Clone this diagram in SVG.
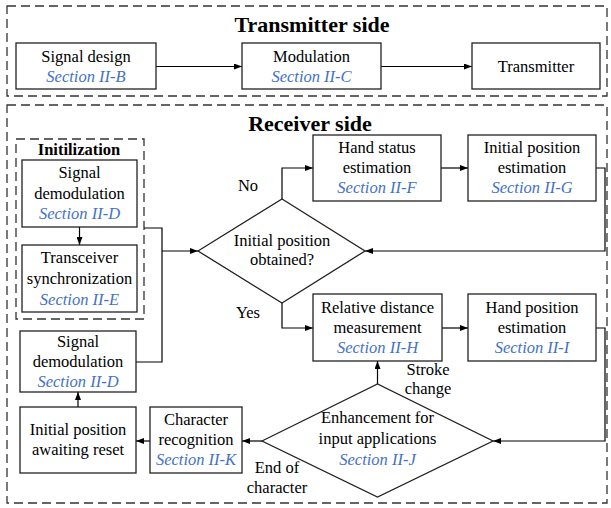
<svg xmlns="http://www.w3.org/2000/svg" width="611" height="508" viewBox="0 0 611 508" font-family="'Liberation Serif', 'Times New Roman', Times, serif">
<style>
text{font-family:'Liberation Serif','Times New Roman',Times,serif;font-size:16.5px;fill:#000;text-anchor:middle}
.t{font-weight:bold;font-size:22px}
.it{font-weight:bold;font-size:16.5px}
.s{font-style:italic;fill:#4472C4}
.box{fill:#fff;stroke:#222;stroke-width:1.3}
.dash{fill:none;stroke:#333;stroke-width:1.3;stroke-dasharray:9 5}
.c{fill:none;stroke:#000;stroke-width:1.2}
</style>
<defs>
<marker id="ah" markerWidth="8" markerHeight="6" refX="8" refY="3" orient="auto" markerUnits="userSpaceOnUse">
<path d="M0,0 L8,3 L0,6 Z" fill="#000"/>
</marker>
</defs>
<g id="transmitter-side">
<rect class="dash" x="7" y="6" width="600" height="90"/>
<text class="t" x="312" y="32">Transmitter side</text>
</g>
<g id="receiver-side">
<rect class="dash" x="7" y="105" width="600" height="398"/>
<text class="t" x="310" y="131">Receiver side</text>
</g>
<g id="initialization">
<rect class="dash" x="16" y="139" width="128" height="180"/>
<text class="it" x="79" y="155">Initilization</text>
</g>
<g id="connectors">
<path class="c" d="M156,66.5 H242" marker-end="url(#ah)"/>
<path class="c" d="M381,66.5 H472" marker-end="url(#ah)"/>
<path class="c" d="M79.5,227 V245" marker-end="url(#ah)"/>
<path class="c" d="M144,228 H162 V362 H136"/>
<path class="c" d="M162,251 H198" marker-end="url(#ah)"/>
<path class="c" d="M282,199 V168 H313" marker-end="url(#ah)"/>
<path class="c" d="M441,168 H468" marker-end="url(#ah)"/>
<path class="c" d="M596,168 H605 V251 H365" marker-end="url(#ah)"/>
<path class="c" d="M282,303 V328 H313" marker-end="url(#ah)"/>
<path class="c" d="M442,328 H468" marker-end="url(#ah)"/>
<path class="c" d="M596,328 H605 V441 H493" marker-end="url(#ah)"/>
<path class="c" d="M377.5,384 V361" marker-end="url(#ah)"/>
<path class="c" d="M262,441 H242" marker-end="url(#ah)"/>
<path class="c" d="M150,441 H136" marker-end="url(#ah)"/>
<path class="c" d="M78,407 V392" marker-end="url(#ah)"/>
</g>
<g id="signal-design">
<rect class="box" x="16" y="43" width="140" height="46"/>
<text x="86" y="62">Signal design</text>
<text class="s" x="86" y="82">Section II-B</text>
</g>
<g id="modulation">
<rect class="box" x="242" y="43" width="139" height="46"/>
<text x="311.5" y="62">Modulation</text>
<text class="s" x="311.5" y="82">Section II-C</text>
</g>
<g id="transmitter">
<rect class="box" x="472" y="43" width="128" height="46"/>
<text x="536" y="72">Transmitter</text>
</g>
<g id="signal-demodulation-1">
<rect class="box" x="22" y="160" width="115" height="67"/>
<text x="79.5" y="178">Signal</text>
<text x="79.5" y="199">demodulation</text>
<text class="s" x="79.5" y="219">Section II-D</text>
</g>
<g id="transceiver-sync">
<rect class="box" x="22" y="245" width="115" height="67"/>
<text x="79.5" y="263">Transceiver</text>
<text x="79.5" y="284">synchronization</text>
<text class="s" x="79.5" y="305">Section II-E</text>
</g>
<g id="initial-position-obtained">
<path class="box" d="M198,251 L282,199 L365,251 L282,303 Z"/>
<text x="282" y="246">Initial position</text>
<text x="282" y="265">obtained?</text>
</g>
<g id="hand-status">
<rect class="box" x="313" y="135" width="128" height="66"/>
<text x="377" y="153">Hand status</text>
<text x="377" y="173">estimation</text>
<text class="s" x="377" y="193">Section II-F</text>
</g>
<g id="initial-position-estimation">
<rect class="box" x="468" y="135" width="128" height="66"/>
<text x="532" y="153">Initial position</text>
<text x="532" y="173">estimation</text>
<text class="s" x="532" y="193">Section II-G</text>
</g>
<g id="relative-distance">
<rect class="box" x="313" y="294" width="129" height="67"/>
<text x="377.5" y="313">Relative distance</text>
<text x="377.5" y="333">measurement</text>
<text class="s" x="377.5" y="353">Section II-H</text>
</g>
<g id="hand-position">
<rect class="box" x="468" y="294" width="128" height="67"/>
<text x="532" y="313">Hand position</text>
<text x="532" y="333">estimation</text>
<text class="s" x="532" y="353">Section II-I</text>
</g>
<g id="enhancement">
<path class="box" d="M262,441 L377.5,384 L493,441 L377.5,497 Z"/>
<text x="377.5" y="423">Enhancement for</text>
<text x="377.5" y="444">input applications</text>
<text class="s" x="377.5" y="465">Section II-J</text>
</g>
<g id="character-recognition">
<rect class="box" x="150" y="407" width="92" height="66"/>
<text x="196" y="425">Character</text>
<text x="196" y="445">recognition</text>
<text class="s" x="196" y="465">Section II-K</text>
</g>
<g id="awaiting-reset">
<rect class="box" x="20" y="407" width="116" height="66"/>
<text x="78" y="435">Initial position</text>
<text x="78" y="455">awaiting reset</text>
</g>
<g id="signal-demodulation-2">
<rect class="box" x="20" y="331" width="116" height="61"/>
<text x="78" y="347">Signal</text>
<text x="78" y="367">demodulation</text>
<text class="s" x="78" y="387">Section II-D</text>
</g>
<g id="labels">
<text x="248" y="191">No</text>
<text x="248" y="318">Yes</text>
<text x="428" y="375">Stroke</text>
<text x="428" y="394">change</text>
<text x="277" y="473">End of</text>
<text x="277" y="493">character</text>
</g>
</svg>
